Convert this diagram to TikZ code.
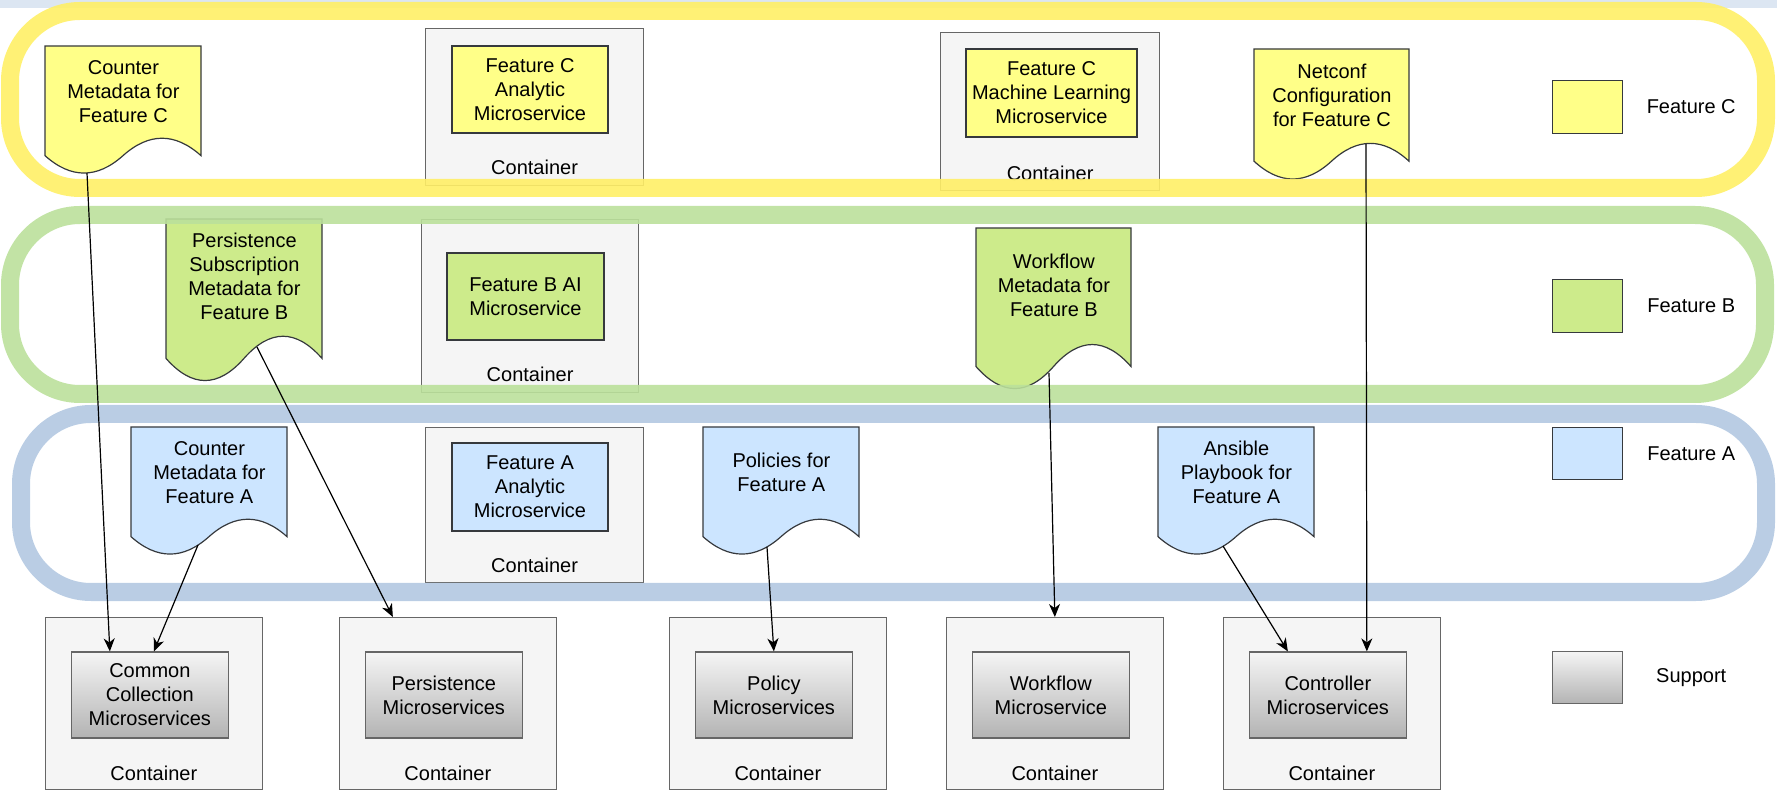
\documentclass[tikz,border=0pt]{standalone}
\usepackage{fontspec}
\setmainfont{Liberation Sans}
\usetikzlibrary{calc}
\usetikzlibrary{arrows.meta}

\definecolor{docline}{HTML}{36393D}
\definecolor{contline}{HTML}{666666}
\definecolor{contfill}{HTML}{F5F5F5}
\definecolor{featC}{HTML}{FFFF88}
\definecolor{featB}{HTML}{CDEB8B}
\definecolor{featA}{HTML}{CCE5FF}
\definecolor{bandC}{HTML}{FFEF66}
\definecolor{bandB}{HTML}{BBE09B}
\definecolor{bandA}{HTML}{B3C8E1}
\definecolor{stripc}{HTML}{DCE6F2}
\definecolor{supTop}{HTML}{F5F5F5}
\definecolor{supBot}{HTML}{B3B3B3}

% document shape: wavy bottom, text in the upper part
\newcommand{\docnode}[7]{%
 \filldraw[docline, fill=#6, line width=0.6pt, shift={(#2,#3)}]
   (0,0) -- (#4,0) -- (#4,{0.85*#5})
   .. controls ({0.8333*#4},{0.67*#5}) and ({0.6667*#4},{0.67*#5}) .. ({0.5*#4},{0.85*#5})
   .. controls ({0.3333*#4},{1.03*#5}) and ({0.1667*#4},{1.03*#5}) .. (0,{0.85*#5}) -- cycle;
 \node[inner sep=0pt, anchor=north west, minimum width={#4*0.5pt}, minimum height={#5*0.35pt}] (#1) at (#2,#3) {#7};
}

\begin{document}
\begin{tikzpicture}[x=0.5pt, y=-0.5pt,
  every node/.style={font=\fontsize{10}{12}\selectfont, align=center},
  cont/.style={draw=contline, fill=contfill, line width=0.6pt, inner sep=0pt, anchor=north west},
  feat/.style={draw=docline, line width=0.6pt, inner sep=0pt},
  supp/.style={draw=contline, top color=supTop, bottom color=supBot, line width=0.6pt, inner sep=0pt, minimum width=78.5pt, minimum height=43pt},
  band/.style={line width=9pt, rounded corners=35pt, draw opacity=0.9},
  conn/.style={->, >={Stealth[length=6.5pt, width=5.5pt, inset=2pt]}, line width=0.6pt}]
\useasboundingbox (0,0) rectangle (1777,790);
\fill[stripc] (0,0) rectangle (1777,8);

% feature C containers
\node[cont, minimum width=109pt, minimum height=78.5pt] (cCana) at (425,28) {};
\node[feat, fill=featC, minimum width=78pt, minimum height=43.5pt] (cCanaIn) at ($(cCana.north west)+(105,61.5)$) {Feature C\\Analytic\\Microservice};
\node (cCanaLbl) at ($(cCana.south)+(0,-19)$) {Container};
\node[cont, minimum width=109.5pt, minimum height=79pt] (cCml) at (940,32) {};
\node[feat, fill=featC, minimum width=85.5pt, minimum height=44pt] (cCmlIn) at ($(cCml.north west)+(111.5,61)$) {Feature C\\Machine Learning\\Microservice};
\node (cCmlLbl) at ($(cCml.south)+(0,-18)$) {Container};

% feature B container
\node[cont, minimum width=108.5pt, minimum height=86.5pt] (cBai) at (421,219) {};
\node[feat, fill=featB, minimum width=78.5pt, minimum height=43.5pt] (cBaiIn) at ($(cBai.north west)+(104.5,77.5)$) {Feature B AI\\Microservice};
\node (cBaiLbl) at ($(cBai.south)+(0,-19)$) {Container};

% feature A container
\node[cont, minimum width=109pt, minimum height=77.5pt] (cAana) at (425,427) {};
\node[feat, fill=featA, minimum width=78pt, minimum height=44pt] (cAanaIn) at ($(cAana.north west)+(105,60)$) {Feature A\\Analytic\\Microservice};
\node (cAanaLbl) at ($(cAana.south)+(0,-18)$) {Container};

% support row
\foreach \nm/\xx/\txt in {cc/45/{Common\\Collection\\Microservices}, ps/339/{Persistence\\Microservices}, po/669/{Policy\\Microservices}, wf/946/{Workflow\\Microservice}, ct/1223/{Controller\\Microservices}} {
 \node[cont, minimum width=108.25pt, minimum height=86pt] (\nm Box) at (\xx,617) {};
 \node[supp] (\nm In) at ($(\nm Box.north)+(-4,78)$) {\txt};
 \node (\nm Lbl) at ($(\nm Box.south)+(0,-17)$) {Container};
}

% documents
\docnode{dCcnt}{45}{46}{156}{129}{featC}{Counter\\Metadata for\\Feature C}
\docnode{dCnet}{1254}{49}{155}{132}{featC}{Netconf\\Configuration\\for Feature C}
\docnode{dBper}{166}{219}{156}{164}{featB}{Persistence\\Subscription\\Metadata for\\Feature B}
\docnode{dBwf}{976}{228}{155}{163}{featB}{Workflow\\Metadata for\\Feature B}
\docnode{dAcnt}{131}{427}{156}{129}{featA}{Counter\\Metadata for\\Feature A}
\docnode{dApol}{703}{427}{156}{129}{featA}{Policies for\\Feature A}
\docnode{dAans}{1158}{427}{156}{129}{featA}{Ansible\\Playbook for\\Feature A}

% legend
\node[feat, fill=featC, minimum width=35pt, minimum height=26.5pt, anchor=north west] (lgC) at (1552,80) {};
\node (lgCtxt) at ($(lgC.east)+(68,0)$) {Feature C};
\node[feat, fill=featB, minimum width=35pt, minimum height=26.5pt, anchor=north west] (lgB) at (1552,279) {};
\node (lgBtxt) at ($(lgB.east)+(68,0)$) {Feature B};
\node[feat, fill=featA, minimum width=35pt, minimum height=26pt, anchor=north west] (lgA) at (1552,427) {};
\node (lgAtxt) at ($(lgA.east)+(68,0)$) {Feature A};
\node[supp, minimum width=35pt, minimum height=26pt, anchor=north west] (lgS) at (1552,651) {};
\node (lgStxt) at ($(lgS.east)+(68,0)$) {Support};

% feature bands
\draw[band, draw=bandC] (10,11) rectangle (1766,188);
\draw[band, draw=bandB] (10,215) rectangle (1765,394);
\draw[band, draw=bandA] (21,414) rectangle (1766,592);

% connectors
\draw[conn] ($(dCcnt.north west)+(42,127)$) -- ($(ccIn.north)+(-40,0)$);
\draw[conn] ($(dAcnt.north west)+(67,118)$) -- ($(ccIn.north)+(4,0)$);
\draw[conn] ($(dBper.north west)+(91,128)$) -- ($(psBox.north)+(-55,0)$);
\draw[conn] ($(dApol.north west)+(64,120)$) -- (poIn.north);
\draw[conn] ($(dBwf.north west)+(73,145)$) -- (wfBox.north);
\draw[conn] ($(dCnet.north west)+(112,95)$) -- ($(ctIn.north)+(39,0)$);
\draw[conn] ($(dAans.north west)+(65,119)$) -- ($(ctIn.north)+(-40,0)$);
\end{tikzpicture}
\end{document}
